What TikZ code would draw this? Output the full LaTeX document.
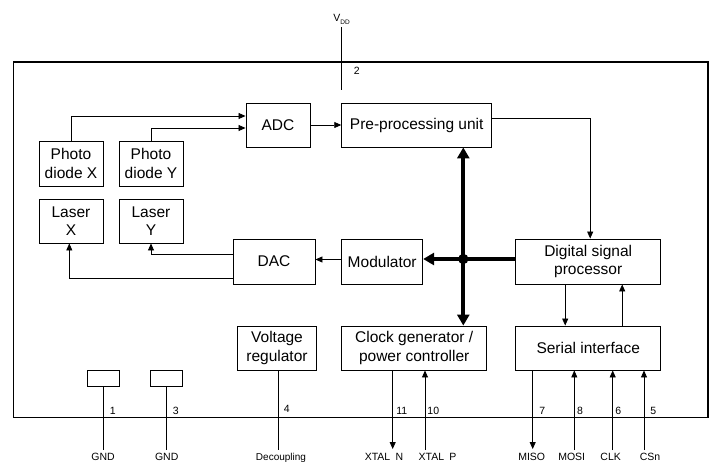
\documentclass[tikz,border=0pt]{standalone}
\usepackage{fontspec}
\setmainfont{Liberation Sans}
\usetikzlibrary{arrows.meta}
\tikzset{
  box/.style={draw, line width=0.9pt, align=center, inner sep=1pt, font=\fontsize{15.5}{18.5}\selectfont},
  padbox/.style={draw, line width=0.9pt, minimum width=32pt, minimum height=16pt, inner sep=0pt},
  wire/.style={line width=0.8pt},
  flow/.style={wire, -{Triangle[length=7pt, width=6pt]}},
  bus/.style={line width=4pt},
  busarrow/.style={bus, -{Triangle[length=11pt, width=12pt]}},
  pinnum/.style={font=\fontsize{10.5}{12}\selectfont, anchor=base, inner sep=0pt},
  pinlab/.style={font=\fontsize{10.5}{12}\selectfont, anchor=base, inner sep=0pt},
}

\begin{document}
\begin{tikzpicture}[x=1pt, y=-1pt]
    \useasboundingbox (0,0) rectangle (712,462);
    % chip outline
    \draw[line width=1.4pt] (13.7,62) rectangle (708,417.7);
    % blocks
    \node[box, minimum width=64pt, minimum height=44pt] (adc) at (278,125) {ADC};
    \node[box, minimum width=150pt, minimum height=44pt] (pre) at (416.7,125) {Pre-processing unit};
    \node[box, minimum width=64pt, minimum height=45pt] (pdx) at (71,163.5) {Photo\\diode X};
    \node[box, minimum width=64pt, minimum height=45pt] (pdy) at (151,163.5) {Photo\\diode Y};
    \node[box, minimum width=64pt, minimum height=44pt] (lasx) at (71,221) {Laser\\X};
    \node[box, minimum width=64pt, minimum height=44pt] (lasy) at (151,221) {Laser\\Y};
    \node[box, minimum width=82pt, minimum height=45pt] (dac) at (274,261.5) {DAC};
    \node[box, minimum width=81pt, minimum height=45pt] (mod) at (382.2,261.5) {Modulator};
    \node[box, minimum width=145pt, minimum height=45pt] (dsp) at (588.2,261.5) {Digital signal\\processor};
    \node[box, minimum width=79pt, minimum height=44pt] (vreg) at (277,348) {Voltage\\regulator};
    \node[box, minimum width=145pt, minimum height=44pt] (clk) at (414.2,348) {Clock generator /\\power controller};
    \node[box, minimum width=145pt, minimum height=44pt] (ser) at (588.2,348) {Serial interface};
    \node[padbox] (gnda) at (103,378) {};
    \node[padbox] (gndb) at (166.8,378) {};
    % signal paths
    \draw[flow] (pdx.north) |- ([yshift=9pt]adc.west);
    \draw[flow] (pdy.north) |- ([yshift=-3pt]adc.west);
    \draw[flow] (adc) -- (pre);
    \draw[flow] ([yshift=7pt]pre.east) -| ([xshift=2pt]dsp.north);
    \draw[flow] ([yshift=2pt]mod.west) -- ([yshift=2pt]dac.east);
    \draw[flow] ([yshift=7pt]dac.west) -| (lasy.south);
    \draw[flow] ([yshift=-16.5pt]dac.west) -| ([xshift=-1.7pt]lasx.south);
    \draw[flow] ([xshift=-23pt]dsp.south) -- ([xshift=-23pt]ser.north);
    \draw[flow] ([xshift=34pt]ser.north) -- ([xshift=34pt]dsp.south);
    % internal bus
    \coordinate (hub) at (463.3,259);
    \draw[bus] (hub -| dsp.west) -- (hub);
    \draw[busarrow] (hub) -- (hub -| mod.east);
    \draw[busarrow] (hub) -- (hub |- pre.south);
    \draw[busarrow] (hub) -- (hub |- clk.north);
    \fill (hub) circle (5.2pt);
    % supply pin
    \coordinate (vddtop) at (341.7,27);
    \coordinate (vddend) at (341.7,90);
    \draw[wire] (vddtop) -- (vddend);
    \node[pinnum, font=\fontsize{10.5}{12}\selectfont] (vddlab) at (341.5,22) {V\raisebox{-2.5pt}{\fontsize{6.5}{7}\selectfont DD}};
    \node[pinnum] (n2) at (356.7,75) {2};
    % bottom pins
    \coordinate (p1) at (103,450);
    \coordinate (p3) at (166.8,450);
    \coordinate (p4) at (278.3,450);
    \coordinate (p11) at (392.7,449);
    \coordinate (p10) at (425,450);
    \coordinate (p7) at (532.7,449);
    \coordinate (p8) at (574.3,450);
    \coordinate (p6) at (612.7,450);
    \coordinate (p5) at (644,450);
    \draw[wire] (gnda.south) -- (p1);
    \draw[wire] (gndb.south) -- (p3);
    \draw[wire] (vreg.south -| p4) -- (p4);
    \draw[flow] (clk.south -| p11) -- (p11);
    \draw[flow] (p10) -- (clk.south -| p10);
    \draw[flow] (ser.south -| p7) -- (p7);
    \draw[flow] (p8) -- (ser.south -| p8);
    \draw[flow] (p6) -- (ser.south -| p6);
    \draw[flow] (p5) -- (ser.south -| p5);
    % pin numbers
    \node[pinnum] (n1) at (112.7,414) {1};
    \node[pinnum] (n3) at (175.7,414) {3};
    \node[pinnum] (n4) at (286.7,412.7) {4};
    \node[pinnum] (n11) at (401.7,414) {11};
    \node[pinnum] (n10) at (433.3,414) {10};
    \node[pinnum] (n7) at (542.3,414) {7};
    \node[pinnum] (n8) at (580,414) {8};
    \node[pinnum] (n6) at (618.3,414) {6};
    \node[pinnum] (n5) at (653.3,414) {5};
    % pin names
    \node[pinlab] (gndlaba) at (103,460) {GND};
    \node[pinlab] (gndlabb) at (166.7,460) {GND};
    \node[pinlab, font=\fontsize{10}{12}\selectfont] (declab) at (281,460) {Decoupling};
    \node[pinlab] (xnlab) at (384,460) {XTAL\enspace N};
    \node[pinlab] (xplab) at (437.5,460) {XTAL\enspace P};
    \node[pinlab] (misolab) at (531.7,460) {MISO};
    \node[pinlab] (mosilab) at (571.7,460) {MOSI};
    \node[pinlab] (clklab) at (610.7,460) {CLK};
    \node[pinlab] (csnlab) at (650,460) {CSn};
  \end{tikzpicture}
\end{document}
